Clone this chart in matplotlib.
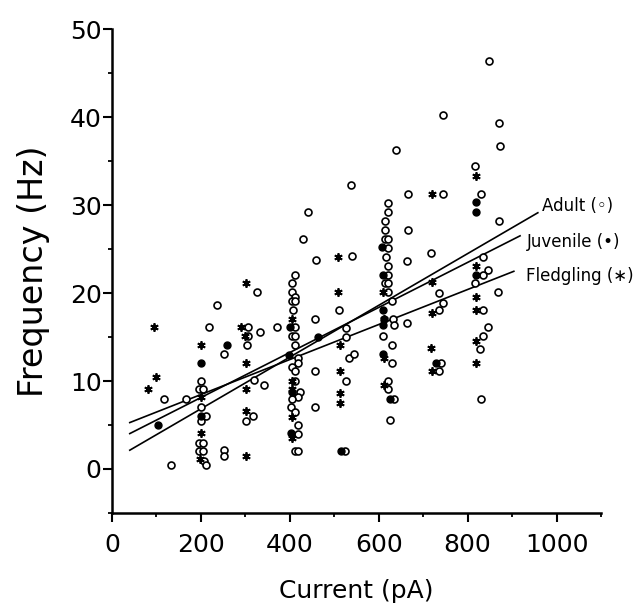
import numpy as np
import matplotlib
matplotlib.use('Agg')
import matplotlib.pyplot as plt

plt.rcParams['font.family'] = ['DejaVu Sans']

# adult (open circles)
adult_x = [117, 166, 133,
           200, 195, 205, 200, 212, 200, 196, 204, 196, 204, 207, 212,
           236, 219, 252, 252, 252,
           305, 305, 303, 318, 302, 326, 333, 372, 320, 341,
           412, 404, 404, 412, 404, 412, 408, 412, 404, 412, 412, 419, 419, 404, 412,
           412, 423, 419, 404, 402, 412, 419, 419, 412, 419,
           429, 440, 459, 457, 457, 457,
           539, 510, 527, 527, 534, 544, 527, 525, 537,
           620, 620, 614, 614, 614, 622, 622, 617, 620, 620, 614, 620, 620, 629, 633,
           635, 610, 629, 629, 620, 620, 635, 625,
           639, 665, 665, 663, 663, 745, 744, 717, 736, 744, 736, 741, 736,
           816, 831, 835, 846, 835, 816, 835, 845, 835, 829, 830, 849, 870, 873, 870, 869]
adult_y = [8.0, 8.0, 0.5,
           10.0, 9.1, 9.1, 7.1, 6.0, 5.4, 3.0, 3.0, 2.1, 2.1, 0.9, 0.45,
           18.6, 16.1, 13.1, 2.2, 1.5,
           16.1, 15.1, 14.1, 6.05, 5.5, 20.1, 15.6, 16.1, 10.1, 9.5,
           22.1, 21.1, 20.1, 19.6, 19.1, 19.1, 18.1, 16.1, 15.1, 15.1, 14.1, 12.6, 12.0, 11.6, 11.1,
           10.0, 8.8, 8.2, 8.0, 7.0, 6.5, 5.0, 4.0, 2.0, 2.0,
           26.1, 29.2, 23.7, 17.1, 11.1, 7.0,
           24.2, 18.1, 16.0, 15.0, 12.6, 13.1, 10.0, 2.0, 32.3,
           30.2, 29.2, 28.2, 27.2, 26.1, 26.1, 25.1, 24.1, 23.1, 22.1, 21.1, 21.1, 20.1, 19.1, 17.1,
           16.4, 15.1, 14.1, 12.1, 10.0, 9.05, 8.0, 5.6,
           36.25, 31.2, 27.2, 23.6, 16.6, 40.2, 31.2, 24.6, 20.0, 18.9, 18.1, 12.0, 11.1,
           34.4, 31.25, 24.1, 22.6, 22.1, 21.1, 18.1, 16.1, 15.1, 13.6, 8.0, 46.4, 39.3, 36.7, 28.2, 20.1]

# juvenile (filled circles)
juvenile_x = [103, 200, 200, 258, 400, 398, 404, 402, 464, 515,
              608, 610, 610, 612, 610, 610, 625, 730, 820, 820, 820]
juvenile_y = [5.0, 12.0, 6.0, 14.1, 16.1, 13.0, 8.7, 4.05, 15.0, 2.0,
              25.2, 22.1, 18.1, 17.1, 16.4, 13.1, 8.0, 12.0, 30.3, 29.2, 22.1]

# fledgling (asterisks)
fledgling_x = [95, 100, 80, 200, 200, 200, 198,
               302, 290, 300, 302, 302, 302, 302,
               404, 404, 406, 406, 406,
               509, 509, 513, 513, 513, 513,
               610, 613, 612, 613,
               719, 719, 719, 717, 719,
               820, 820, 820, 819, 819, 819]
fledgling_y = [16.1, 10.5, 9.1, 14.1, 8.2, 4.05, 1.1,
               21.1, 16.1, 15.1, 12.1, 9.1, 6.6, 1.5,
               17.1, 10.0, 9.05, 5.95, 3.5,
               24.1, 20.1, 14.1, 11.1, 8.6, 7.5,
               20.1, 17.1, 12.6, 9.5,
               31.2, 21.2, 17.7, 13.7, 11.1,
               33.3, 23.1, 19.6, 18.1, 14.6, 12.1]

# regression lines: intercept, slope, x range
groups = ['Adult (◦)', 'Juvenile (•)', 'Fledgling (∗)']
fit_intercept = [0.96, 3.0, 4.48]
fit_slope = [0.0294, 0.0256, 0.0199]
fit_start = [40, 40, 40]
fit_end = [958, 918, 904]
label_x = [967, 933, 931]
label_y = [29.9, 25.8, 21.9]

fig = plt.figure(figsize=(6.4, 6.06), dpi=100)
ax = fig.add_axes([0.175, 0.1535, 0.764, 0.7985])

ax.plot(adult_x, adult_y, 'o', mfc='white', mec='black', ms=5, mew=1.2, ls='none', zorder=3)
ax.plot(juvenile_x, juvenile_y, 'o', mfc='black', mec='black', ms=5, ls='none', zorder=3)
ax.plot(fledgling_x, fledgling_y, marker=(6, 2, 0), color='black', ms=6, mew=1.3, ls='none', zorder=3)

for i in range(3):
    xs = np.array([fit_start[i], fit_end[i]])
    ax.plot(xs, fit_intercept[i] + fit_slope[i] * xs, color='black', lw=1.2, zorder=2)
    ax.text(label_x[i], label_y[i], groups[i], fontsize=12, va='center', ha='left')

ax.set_xlim(0, 1100)
ax.set_ylim(-5, 50)
ax.set_xticks(np.arange(0, 1001, 200))
ax.set_xticks(np.arange(100, 1101, 100), minor=True)
ax.set_yticks(np.arange(0, 51, 10))
ax.set_yticks(np.arange(-5, 50, 5), minor=True)

ax.spines['top'].set_visible(False)
ax.spines['right'].set_visible(False)
ax.spines['left'].set_linewidth(1.8)
ax.spines['bottom'].set_linewidth(1.8)
ax.tick_params(which='major', direction='out', length=6.5, width=1.5, labelsize=18)
ax.tick_params(axis='x', which='major', pad=8)
ax.tick_params(axis='y', which='major', pad=1)
ax.tick_params(which='minor', direction='out', length=3, width=1.3)

ax.set_xlabel('Current (pA)', fontsize=18, labelpad=16)
ax.set_ylabel('Frequency (Hz)', fontsize=24, labelpad=14)

fig.savefig('out.png', dpi=100)
